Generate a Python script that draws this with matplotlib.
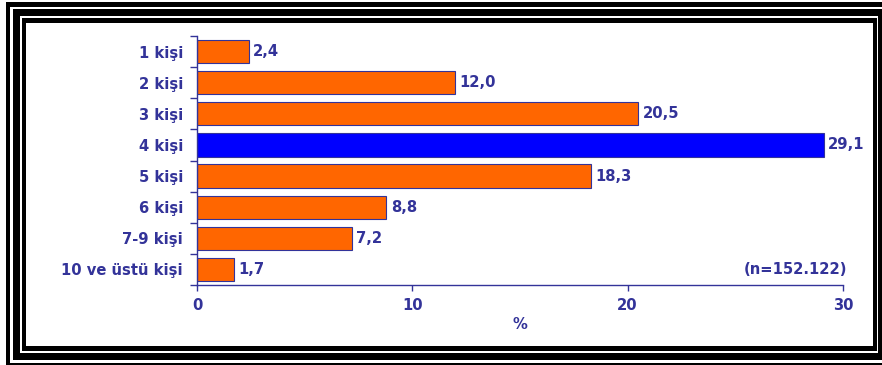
import matplotlib
matplotlib.use('Agg')
import matplotlib.pyplot as plt
from matplotlib.patches import Rectangle

categories = ['1 kişi', '2 kişi', '3 kişi', '4 kişi', '5 kişi', '6 kişi', '7-9 kişi', '10 ve üstü kişi']
values = [2.4, 12.0, 20.5, 29.1, 18.3, 8.8, 7.2, 1.7]
highlight = '4 kişi'
xticks = [0, 10, 20, 30]
note = '(n=152.122)'

NAVY = '#333399'
ORANGE = '#FF6600'
BLUE = '#0000FF'
FS = 10.6

plt.rcParams['font.family'] = ['DejaVu Sans']
plt.rcParams['font.weight'] = 'bold'

W, H = 882, 365
fig = plt.figure(figsize=(W / 100, H / 100), dpi=100)
ax = fig.add_axes([197 / W, 1 - 285 / H, 646 / W, 249 / H])

pos = list(range(len(categories)))
colors = [BLUE if c == highlight else ORANGE for c in categories]
ax.barh(pos, values, height=0.75, color=colors, edgecolor=NAVY, linewidth=0.8)
for p, v in zip(pos, values):
    ax.text(v + 0.2, p, f'{v:.1f}'.replace('.', ','), va='center', ha='left',
            color=NAVY, fontsize=FS, fontweight='bold')

ax.set_ylim(len(categories) - 0.5, -0.5)
ax.set_xlim(0, 30)
ax.set_yticks(pos)
ax.set_yticklabels(categories)
ax.set_yticks([p - 0.5 for p in pos] + [len(categories) - 0.5], minor=True)
ax.tick_params(axis='y', which='major', length=0, pad=10, labelcolor=NAVY, labelsize=FS)
ax.tick_params(axis='y', which='minor', length=5, color=NAVY, width=1)
ax.set_xticks(xticks)
ax.tick_params(axis='x', length=4, color=NAVY, width=1, pad=5, labelcolor=NAVY, labelsize=FS)
ax.set_xlabel('%', color=NAVY, fontsize=FS, fontweight='bold', labelpad=3)

for s in ['top', 'right']:
    ax.spines[s].set_visible(False)
for s in ['left', 'bottom']:
    ax.spines[s].set_color(NAVY)
    ax.spines[s].set_linewidth(1)

ax.text(30.2, len(categories) - 1, note, ha='right', va='center', color=NAVY,
        fontsize=FS, fontweight='bold')


# triple black frame; each band is four filled strips given in pixels
# (left, top, right, bottom outer edges) and a thickness per side
def band(x0, y0, x1, y1, tl, tt, tr, tb):
    strips = [
        (x0, y0, x0 + tl, y1),
        (x1 - tr, y0, x1, y1),
        (x0, y0, x1, y0 + tt),
        (x0, y1 - tb, x1, y1),
    ]
    for a, b, c, d in strips:
        fig.patches.append(Rectangle((a / W, 1 - d / H), (c - a) / W, (d - b) / H,
                                     transform=fig.transFigure, color='black', lw=0))


band(6, 2, 895, 366, 4, 5, 4, 3)
band(13, 9, 885, 360, 7, 7, 7, 7)
band(22, 18, 876.7, 351, 4, 5, 4, 5.5)

fig.savefig('out.png', dpi=100)
